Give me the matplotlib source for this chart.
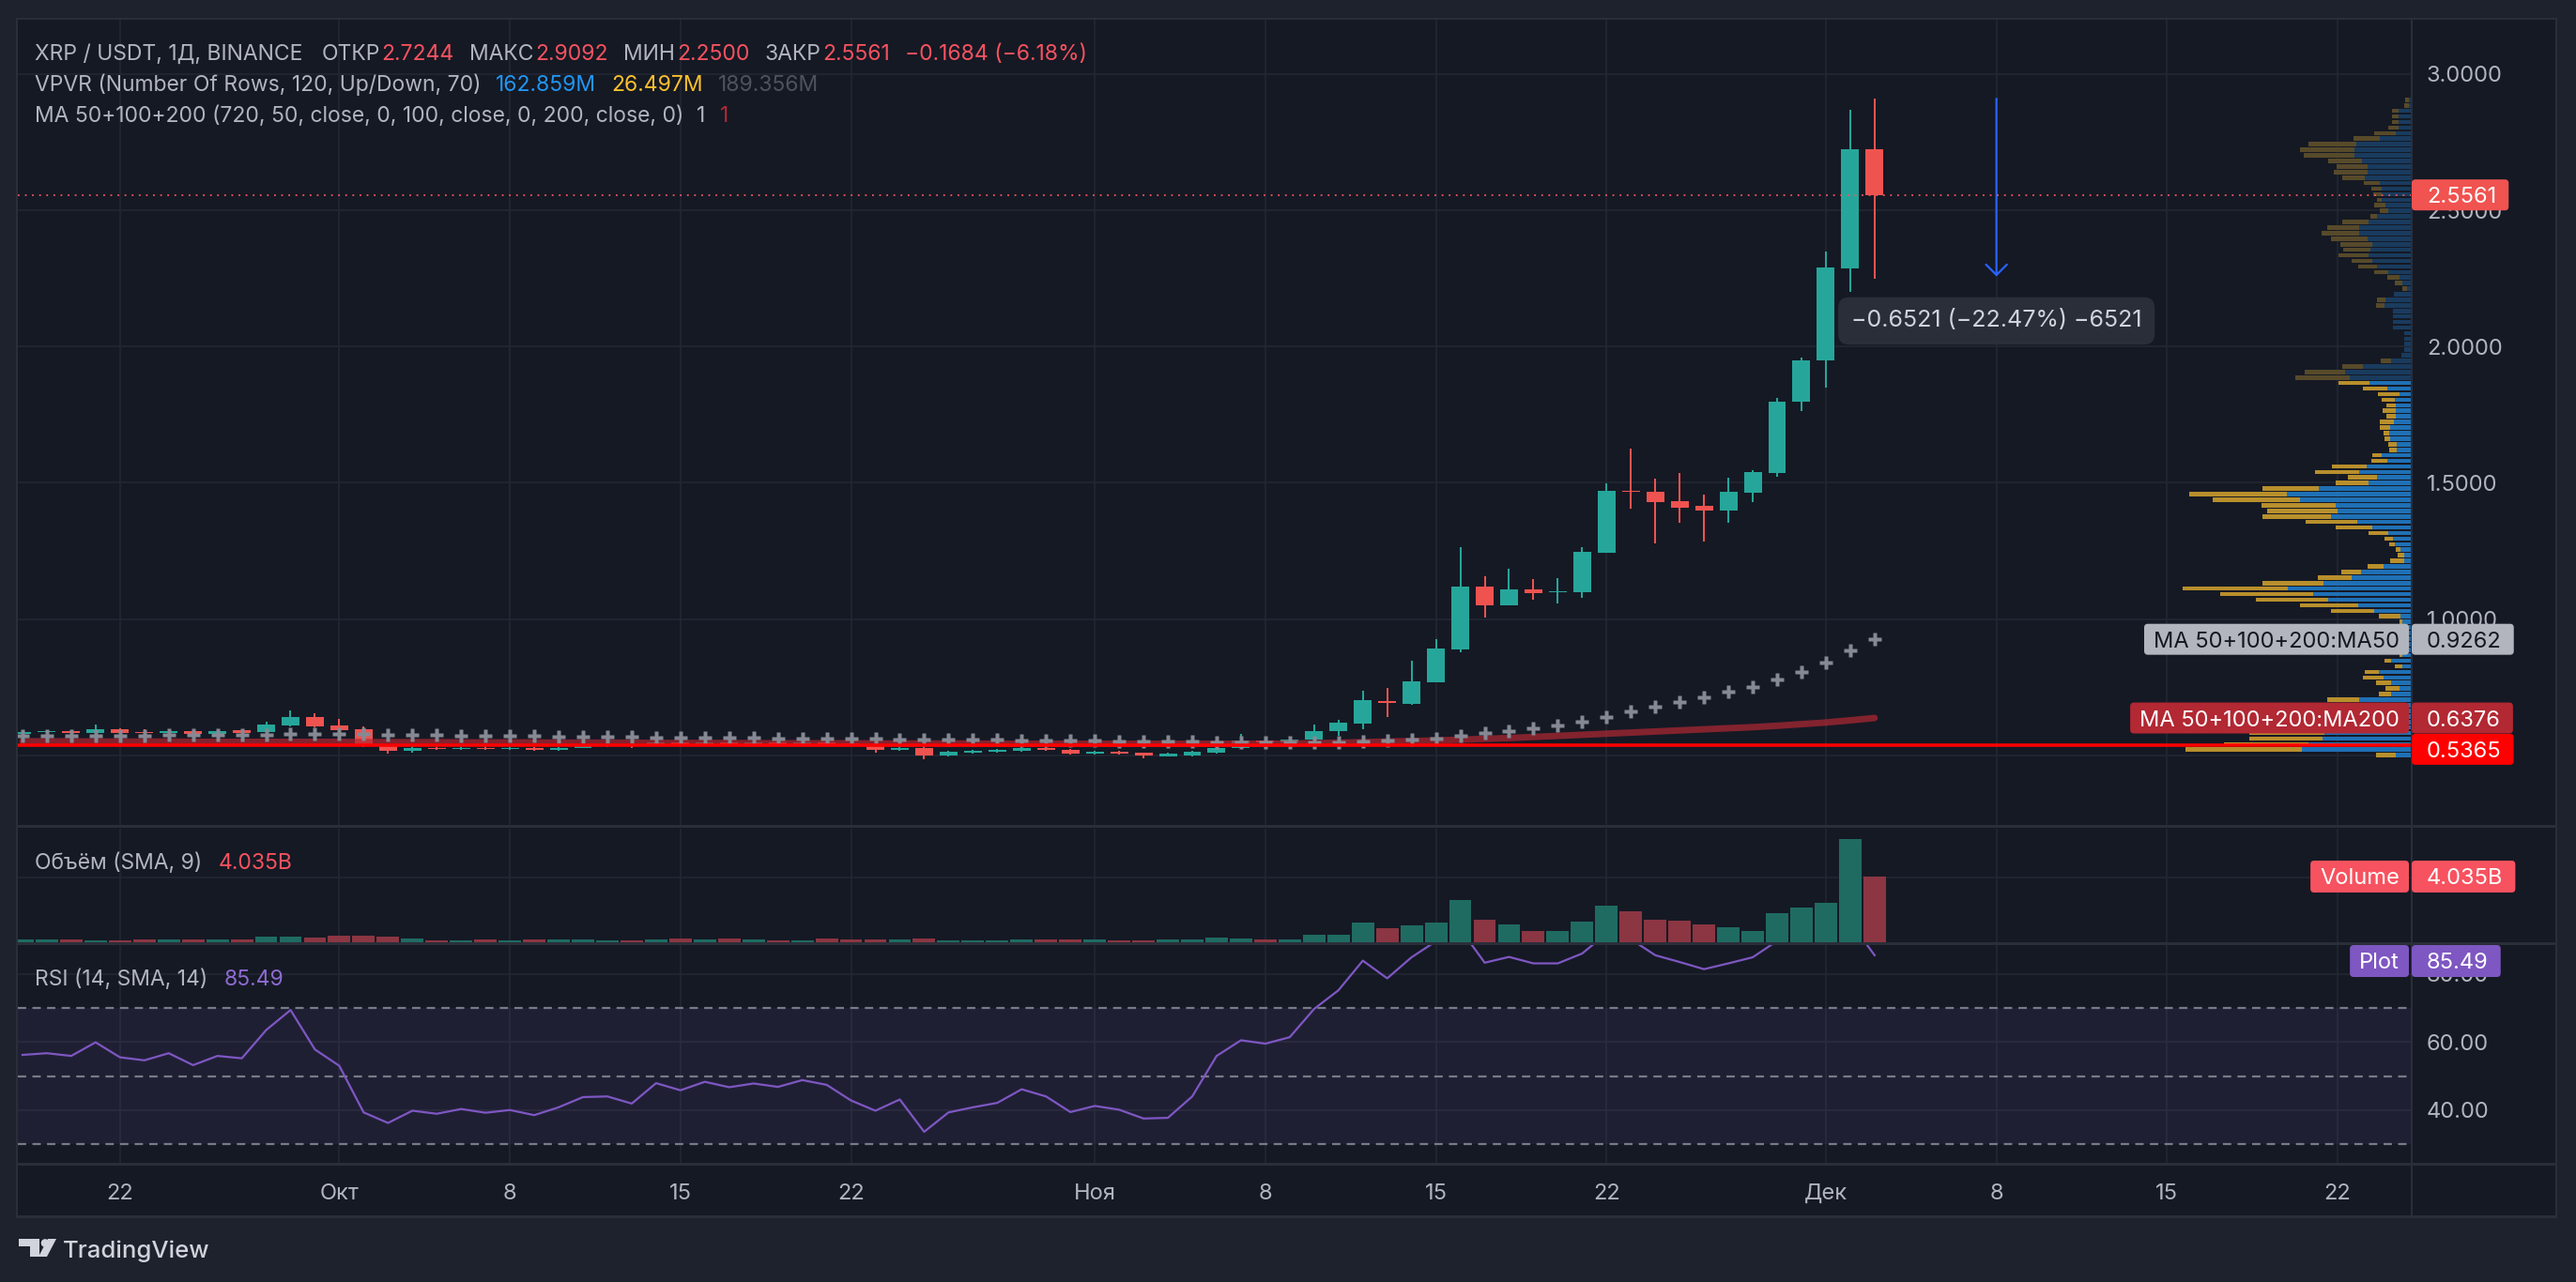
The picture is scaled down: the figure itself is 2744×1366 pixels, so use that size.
import numpy as np
import pandas as pd
import matplotlib
matplotlib.use('Agg')
import matplotlib.pyplot as plt
from matplotlib.patches import Rectangle, FancyBboxPatch, Polygon, Circle
from matplotlib.transforms import IdentityTransform

W, H, DPI = 2744, 1366, 100
plt.rcParams['font.family'] = ['Inter', 'DejaVu Sans']

# ---------------- data ----------------
dates = pd.date_range('2024-09-18', '2024-12-03', freq='D')

opens = [0.580, 0.586, 0.590, 0.583, 0.596, 0.587, 0.581, 0.589, 0.580, 0.593,
         0.585, 0.611, 0.641, 0.609, 0.596, 0.535, 0.517, 0.529, 0.524, 0.529,
         0.524, 0.529, 0.521, 0.529, 0.534, 0.538, 0.536, 0.549, 0.543, 0.549,
         0.543, 0.549, 0.543, 0.549, 0.546, 0.541, 0.521, 0.529, 0.500, 0.510,
         0.514, 0.517, 0.529, 0.522, 0.507, 0.514, 0.510, 0.498, 0.500, 0.510,
         0.528, 0.555, 0.548, 0.557, 0.588, 0.618, 0.700, 0.688, 0.770, 0.890,
         1.118, 1.052, 1.110, 1.099, 1.100, 1.245, 1.472, 1.469, 1.432, 1.414,
         1.397, 1.465, 1.537, 1.798, 1.948, 2.288, 2.7244]
highs = [0.590, 0.594, 0.594, 0.613, 0.601, 0.596, 0.594, 0.595, 0.596, 0.598,
         0.623, 0.665, 0.655, 0.634, 0.607, 0.538, 0.533, 0.532, 0.532, 0.534,
         0.532, 0.532, 0.532, 0.537, 0.540, 0.541, 0.551, 0.553, 0.552, 0.552,
         0.552, 0.551, 0.552, 0.555, 0.549, 0.543, 0.532, 0.532, 0.516, 0.519,
         0.523, 0.532, 0.532, 0.525, 0.516, 0.516, 0.512, 0.509, 0.516, 0.531,
         0.580, 0.560, 0.562, 0.615, 0.631, 0.738, 0.748, 0.848, 0.927, 1.265,
         1.157, 1.185, 1.147, 1.150, 1.264, 1.499, 1.627, 1.514, 1.536, 1.457,
         1.519, 1.547, 1.811, 1.958, 2.348, 2.869, 2.9092]
lows = [0.576, 0.580, 0.578, 0.580, 0.580, 0.578, 0.577, 0.577, 0.577, 0.580,
        0.583, 0.607, 0.603, 0.590, 0.530, 0.508, 0.511, 0.522, 0.522, 0.521,
        0.521, 0.518, 0.518, 0.526, 0.530, 0.526, 0.535, 0.540, 0.540, 0.541,
        0.540, 0.541, 0.540, 0.540, 0.538, 0.511, 0.518, 0.486, 0.497, 0.506,
        0.510, 0.515, 0.518, 0.505, 0.504, 0.505, 0.490, 0.495, 0.498, 0.508,
        0.525, 0.545, 0.545, 0.550, 0.571, 0.598, 0.640, 0.686, 0.768, 0.877,
        1.005, 1.050, 1.070, 1.057, 1.077, 1.243, 1.404, 1.277, 1.355, 1.284,
        1.352, 1.430, 1.524, 1.764, 1.848, 2.201, 2.2500]
closes = [0.586, 0.590, 0.583, 0.596, 0.584, 0.581, 0.589, 0.580, 0.590, 0.583,
          0.613, 0.641, 0.607, 0.594, 0.536, 0.517, 0.529, 0.524, 0.529, 0.524,
          0.529, 0.521, 0.529, 0.534, 0.538, 0.535, 0.549, 0.543, 0.549, 0.543,
          0.549, 0.543, 0.549, 0.543, 0.541, 0.521, 0.529, 0.500, 0.514, 0.517,
          0.521, 0.529, 0.521, 0.507, 0.514, 0.507, 0.500, 0.507, 0.514, 0.528,
          0.555, 0.548, 0.559, 0.590, 0.620, 0.703, 0.694, 0.771, 0.892, 1.118,
          1.052, 1.110, 1.097, 1.101, 1.247, 1.471, 1.467, 1.430, 1.410, 1.397,
          1.467, 1.539, 1.798, 1.950, 2.290, 2.7244, 2.5561]
volumes_b = [0.17, 0.17, 0.17, 0.12, 0.12, 0.17, 0.17, 0.17, 0.17, 0.17,
             0.35, 0.35, 0.29, 0.40, 0.40, 0.35, 0.23,
             0.12, 0.12, 0.17, 0.12, 0.17, 0.17, 0.17, 0.12, 0.12,
             0.17, 0.23, 0.17, 0.23, 0.17, 0.12, 0.12, 0.23, 0.17, 0.17, 0.17, 0.23,
             0.12, 0.12, 0.12, 0.17, 0.17, 0.17, 0.17, 0.12, 0.12, 0.17, 0.17, 0.29, 0.23, 0.17, 0.17,
             0.46, 0.46, 1.21, 0.86, 1.04, 1.21, 2.59, 1.38, 1.10, 0.69, 0.69, 1.27,
             2.25, 1.90, 1.38, 1.33, 1.10, 0.92, 0.69, 1.79, 2.13, 2.42, 6.34, 4.035]
rsi = [56.2, 56.7, 55.9, 59.9, 55.5, 54.6, 56.7, 53.2, 55.9, 55.2,
       63.5, 69.4, 57.8, 53.0, 39.3, 36.2, 39.8, 38.9, 40.3, 39.2,
       40.0, 38.5, 40.8, 43.8, 44.0, 41.9, 47.9, 45.8, 48.3, 46.7,
       47.8, 46.8, 48.8, 47.4, 42.8, 39.8, 43.1, 33.6, 39.3, 40.8,
       42.1, 46.1, 44.0, 39.4, 41.2, 40.1, 37.5, 37.7, 44.0, 55.9,
       60.5, 59.5, 61.4, 69.7, 75.2, 83.9, 78.7, 84.9, 89.6, 93.2,
       83.3, 85.0, 83.1, 83.1, 86.0, 91.9, 90.2, 85.5, 83.5, 81.4,
       83.1, 84.9, 89.7, 92.0, 93.0, 95.2, 85.49]
ma50 = [0.572, 0.572, 0.573, 0.573, 0.574, 0.574, 0.575, 0.575, 0.575, 0.576,
        0.577, 0.578, 0.579, 0.579, 0.578,
        0.577, 0.576, 0.575, 0.574, 0.573, 0.572, 0.571, 0.570,
        0.569, 0.568, 0.568, 0.567, 0.566, 0.566, 0.565,
        0.564, 0.563, 0.563, 0.562, 0.562, 0.561, 0.560, 0.559, 0.558, 0.558, 0.557,
        0.556, 0.556, 0.555, 0.554, 0.553, 0.552, 0.551, 0.550,
        0.549, 0.548, 0.547, 0.547, 0.547,
        0.549, 0.551, 0.555, 0.558, 0.562, 0.573, 0.581, 0.590, 0.600, 0.610,
        0.625, 0.641, 0.661, 0.680, 0.695, 0.715, 0.735, 0.752, 0.780, 0.806,
        0.840, 0.885, 0.9262]
ma200 = [0.552, 0.552, 0.552, 0.551, 0.551, 0.551, 0.551, 0.550, 0.550, 0.550,
         0.550, 0.550, 0.550, 0.550, 0.549, 0.549, 0.549, 0.549, 0.548, 0.548,
         0.548, 0.548, 0.547, 0.547, 0.547, 0.547, 0.546, 0.546, 0.546, 0.546,
         0.545, 0.545, 0.545, 0.545, 0.545, 0.544, 0.544, 0.544, 0.544, 0.544,
         0.543, 0.543, 0.543, 0.543, 0.543, 0.543, 0.543, 0.543, 0.543, 0.543,
         0.543, 0.543, 0.544, 0.545,
         0.547, 0.549, 0.551, 0.553, 0.555, 0.558, 0.561, 0.564, 0.568, 0.572,
         0.576, 0.580, 0.584, 0.588, 0.592, 0.596, 0.600, 0.604, 0.609, 0.615,
         0.621, 0.629, 0.6376]

# volume profile rows, from the highest price row to the lowest (relative widths)
vp_up = [2.7, 2.7, 13.7, 13.7, 13.7, 13.7, 16.7, 34.3, 59.0, 61.0,
         61.0, 52.7, 47.0, 47.0, 50.0, 34.3, 31.7, 31.7, 32.3, 27.7,
         25.0, 36.7, 46.0, 56.0, 56.0, 47.0, 41.7, 43.7, 45.7, 42.0,
         36.7, 25.0, 12.7, 10.3, 5.3, 19.3, 27.7, 29.0, 20.0, 20.0,
         20.0, 20.0, 8.3, 7.7, 7.7, 8.3, 11.0, 22.3, 52.0, 70.7,
         66.3, 44.7, 25.7, 12.7, 18.3, 16.7, 17.3, 16.7, 18.7, 22.7,
         24.3, 22.7, 16.0, 16.0, 32.3, 25.7, 48.3, 55.7, 36.7, 45.7,
         98.7, 132.7, 118.7, 80.7, 78.7, 85.7, 57.7, 42.3, 24.7, 19.7,
         18.3, 11.7, 8.3, 8.3, 30.3, 53.7, 64.3, 93.7, 131.7, 104.7,
         88.7, 56.7, 39.7, 11.7, 10.3, 12.7, 10.0, 12.0, 14.0, 12.0,
         10.0, 21.7, 10.3, 34.7, 29.7, 21.7, 13.0, 21.7, 55.7, 59.7,
         60.0, 70.0, 75.0, 80.0, 92.7, 94.7, 110.0, 116.7, 16.7]
vp_down = [4.0, 5.7, 7.3, 7.3, 7.3, 11.3, 23.0, 27.3, 50.7, 57.7,
           54.0, 36.3, 32.7, 35.7, 23.7, 16.3, 11.0, 9.3, 4.3, 12.0,
           9.3, 7.7, 27.7, 34.0, 39.7, 38.7, 34.0, 29.0, 32.0, 22.3,
           20.0, 14.7, 13.0, 7.3, 5.0, 0.0, 9.0, 8.7, 0.0, 0.0,
           0.0, 0.0, 0.0, 0.0, 0.0, 0.0, 0.0, 10.3, 21.7, 43.0,
           57.3, 33.0, 26.0, 23.0, 13.3, 10.0, 13.3, 10.0, 15.0, 11.0,
           6.0, 6.0, 8.7, 8.0, 9.3, 17.0, 36.3, 47.0, 31.0, 35.0,
           60.0, 104.0, 93.0, 79.0, 75.0, 73.0, 55.0, 38.3, 21.0, 9.0,
           5.3, 5.0, 6.3, 14.3, 16.3, 21.0, 35.3, 65.0, 112.0, 99.0,
           77.0, 62.0, 46.0, 23.0, 2.3, 10.7, 4.0, 5.0, 6.0, 4.0,
           3.0, 7.0, 7.3, 15.0, 22.0, 16.0, 14.7, 13.0, 34.0, 52.0,
           45.0, 55.0, 60.0, 60.0, 80.0, 78.0, 90.0, 124.0, 21.0]
vp_top_row, vp_bottom_row = 2.905, 0.501
vp_value_area_start = 51          # rows from here downward are inside the value area

last_price = 2.5561
hline_price = 0.5365
ma50_last, ma200_last = 0.9262, 0.6376
vol_last, rsi_last = 4.035, 85.49
measure_date = '2024-12-08'
measure_from, measure_to = 2.9092, 2.2571
measure_text = '\u22120.6521 (\u221222.47%) \u22126521'

tick_dates = ['2024-09-22', '2024-10-01', '2024-10-08', '2024-10-15', '2024-10-22',
              '2024-11-01', '2024-11-08', '2024-11-15', '2024-11-22', '2024-12-01',
              '2024-12-08', '2024-12-15', '2024-12-22']
tick_labels = ['22', 'Окт', '8', '15', '22', 'Ноя', '8', '15', '22', 'Дек', '8', '15', '22']
price_ticks = [0.5, 1.0, 1.5, 2.0, 2.5, 3.0]
rsi_ticks = [40, 60, 80]
rsi_levels = [30, 50, 70]

# ---------------- style ----------------
BG = '#151924'
FRAME = '#1e222d'
SEP = '#2a2e39'
GRID = '#232733'
TEAL, RED = '#26a69a', '#ef5350'
VTEAL, VRED = '#1f6b62', '#8b3642'
TXT = '#b2b5be'
IDT = IdentityTransform()
LFS = 16.5     # legend font size
AFS = 17       # axis font size

fig = plt.figure(figsize=(W / DPI, H / DPI), dpi=DPI)
fig.patch.set_facecolor(FRAME)
r = fig.canvas.get_renderer()


def rect(x0, y0, x1, y1, color, z=-5):
    fig.add_artist(Rectangle((x0, H - y1), x1 - x0, y1 - y0, transform=IDT,
                             facecolor=color, edgecolor='none', zorder=z))


def add_ax(x0, y0, x1, y1):
    a = fig.add_axes([x0 / W, 1 - y1 / H, (x1 - x0) / W, (y1 - y0) / H])
    a.set_facecolor(BG)
    for s in a.spines.values():
        s.set_visible(False)
    a.set_xticks([])
    a.set_yticks([])
    return a


def txt(x, ytop, s, color=TXT, fs=LFS, ha='left', va='baseline', z=8, **kw):
    return fig.text(x, H - ytop, s, transform=IDT, color=color, fontsize=fs,
                    ha=ha, va=va, zorder=z, **kw)


rect(19, 20, 2723, 1297, BG, z=-6)

ax = add_ax(19, 20, 2569, 881)
ax_vol = add_ax(19, 883, 2569, 1005)
ax_rsi = add_ax(19, 1007, 2569, 1240)

x = (dates - dates[0]).days.values.astype(float)
XL = (-0.19, 98.04)
for a in (ax, ax_vol, ax_rsi):
    a.set_xlim(*XL)
ax.set_ylim(0.23838, 3.20224)
ax_vol.set_ylim(-0.0576, 6.974)
ax_rsi.set_ylim(24.21, 88.48)

tick_x = [(pd.Timestamp(d) - dates[0]).days for d in tick_dates]
for a in (ax, ax_vol, ax_rsi):
    for tx in tick_x:
        a.axvline(tx, color=GRID, lw=1.2, zorder=0)
for p in price_ticks:
    ax.axhline(p, color=GRID, lw=1.2, zorder=0)
ax_vol.axhline(4.0, color=GRID, lw=1.2, zorder=0)
for v in rsi_ticks:
    ax_rsi.axhline(v, color=GRID, lw=1.2, zorder=0)

# ---- candles ----
o, h, l, c = map(np.array, (opens, highs, lows, closes))
up = c >= o
cols = np.where(up, TEAL, RED)
ax.vlines(x, l, h, colors=cols, lw=1.45, zorder=3)
body = np.maximum(np.abs(c - o), 0.005)
ax.bar(x, body, bottom=np.minimum(o, c), width=0.73, color=cols, lw=0, zorder=4)

# ---- moving averages ----
ax.plot(x, ma200, color='#b22833', lw=5, alpha=0.7, solid_capstyle='round', zorder=5)
ax.plot(x, ma50, ls='none', marker='P', ms=9.5, color='#868993', mec='none', zorder=6)

# ---- measurement ----
mx = (pd.Timestamp(measure_date) - dates[0]).days
ax.annotate('', xy=(mx, measure_to), xytext=(mx, measure_from),
            arrowprops=dict(arrowstyle='->,head_length=0.8,head_width=0.8', color='#2962ff',
                            lw=1.6, shrinkA=0, shrinkB=0, mutation_scale=10), zorder=7)
ax.text(mx, 2.094, measure_text, ha='center', va='center', color='#d1d4dc', fontsize=18,
        zorder=9, bbox=dict(boxstyle='round,pad=0.55,rounding_size=0.45', fc='#2a2e39', ec='none'))

# ---- volume profile ----
ax_vp = ax.twiny()
ax_vp.set_axis_off()
ax_vp.set_xlim(2550, 0)
n = len(vp_up)
centres = np.linspace(vp_top_row, vp_bottom_row, n)
rowh = (vp_top_row - vp_bottom_row) / (n - 1)
inside = np.arange(n) >= vp_value_area_start
upc = np.where(inside, '#1f70b5', '#193b5e')
dnc = np.where(inside, '#b88f2c', '#574a2a')
ax_vp.barh(centres, vp_up, left=0, height=rowh * 0.78, color=upc, lw=0, zorder=2)
ax_vp.barh(centres, vp_down, left=vp_up, height=rowh * 0.78, color=dnc, lw=0, zorder=2)
ax_vp.axhline(last_price, color='#f7525f', lw=1.3, ls=(0, (1, 3.2)), zorder=3)
ax_vp.axhline(hline_price, color='#ff0000', lw=2.6, zorder=3)

# ---- volume ----
vcols = np.where(up, VTEAL, VRED)
ax_vol.bar(x, volumes_b, width=0.92, color=vcols, lw=0, zorder=3)

# ---- RSI ----
ax_rsi.axhspan(30, 70, color='#7e57c2', alpha=0.1, lw=0, zorder=1)
for v in rsi_levels:
    ax_rsi.axhline(v, color='#787b86', lw=1.6, ls=(0, (4, 3)), zorder=2)
ax_rsi.plot(x, rsi, color='#7e57c2', lw=1.6, zorder=4)

# ---- separators / borders ----
rect(19, 879, 2723, 882, SEP, z=2)
rect(19, 1004, 2723, 1007, SEP, z=2)
rect(19, 1239, 2723, 1242, SEP, z=2)
rect(19, 1295, 2723, 1298, SEP, z=2)
rect(19, 19, 2723, 21, SEP, z=2)
rect(2568, 20, 2570, 1297, SEP, z=2)
rect(17, 19, 19, 1298, SEP, z=2)
rect(2722, 19, 2724, 1298, SEP, z=2)


def ypx(a, v):
    return H - a.transData.transform((0, v))[1]


def xpx(a, v):
    return a.transData.transform((v, 0))[0]


CAP = 0.36 * AFS * DPI / 72

# price axis labels
for p in price_ticks:
    txt(2585, ypx(ax, p) + CAP, '%.4f' % p, TXT, AFS, z=4)
for v in rsi_ticks:
    txt(2585, ypx(ax_rsi, v) + CAP, '%.2f' % v, TXT, AFS, z=4)
# x labels
for tx, lab in zip(tick_x, tick_labels):
    txt(xpx(ax_rsi, tx), 1278, lab, TXT, AFS, ha='center', z=4)


def box(x0, x1, yc, h, fc):
    fig.add_artist(FancyBboxPatch((x0, H - yc - h / 2), x1 - x0, h,
                                  boxstyle='round,pad=0,rounding_size=4', transform=IDT,
                                  fc=fc, ec='none', zorder=6.5))


def vbox(yc, s, fc, tc, h=33):
    t = txt(2585, yc + CAP, s, tc, AFS, z=7)
    e = t.get_window_extent(r)
    box(2569, e.x1 + 13, yc, h, fc)


def nbox(yc, s, fc, tc, h=33):
    t = txt(2556, yc + CAP, s, tc, AFS, ha='right', z=7)
    e = t.get_window_extent(r)
    box(e.x0 - 10, 2566, yc, h, fc)


vbox(ypx(ax, last_price), '%.4f' % last_price, '#f05350', '#ffffff')
nbox(ypx(ax, ma50_last), 'MA 50+100+200:MA50', '#b2b5be', '#131722')
vbox(ypx(ax, ma50_last), '%.4f' % ma50_last, '#b2b5be', '#131722')
nbox(ypx(ax, ma200_last), 'MA 50+100+200:MA200', '#b22833', '#ffffff')
vbox(ypx(ax, ma200_last), '%.4f' % ma200_last, '#b22833', '#ffffff')
vbox(ypx(ax, hline_price) + 4, '%.4f' % hline_price, '#ff0000', '#ffffff')
nbox(ypx(ax_vol, vol_last), 'Volume', '#f7525f', '#ffffff', h=34)
vbox(ypx(ax_vol, vol_last), '%.3fB' % vol_last, '#f7525f', '#ffffff', h=34)
nbox(1024, 'Plot', '#7e57c2', '#ffffff', h=34)
vbox(1024, '%.2f' % rsi_last, '#7e57c2', '#ffffff', h=34)


def segs(x0, ybase, parts, fs=LFS):
    xx = x0
    for s, color, gap in parts:
        xx += gap
        t = txt(xx, ybase, s, color, fs)
        xx = t.get_window_extent(r).x1


LRED = '#f7525f'
segs(37, 64, [('XRP / USDT, 1Д, BINANCE', TXT, 0), ('ОТКР', TXT, 20), ('2.7244', LRED, 2),
              ('МАКС', TXT, 16), ('2.9092', LRED, 2), ('МИН', TXT, 16), ('2.2500', LRED, 2),
              ('ЗАКР', TXT, 16), ('2.5561', LRED, 2), ('\u22120.1684 (\u22126.18%)', LRED, 16)])
segs(37, 97, [('VPVR (Number Of Rows, 120, Up/Down, 70)', TXT, 0), ('162.859M', '#2196f3', 15),
              ('26.497M', '#fbc02d', 17), ('189.356M', '#4e525d', 16)])
segs(37, 130, [('MA 50+100+200 (720, 50, close, 0, 100, close, 0, 200, close, 0)', TXT, 0),
               ('1', TXT, 14), ('1', '#b22833', 15)])
segs(37, 926, [('Объём (SMA, 9)', TXT, 0), ('4.035B', LRED, 17)])
segs(37, 1050, [('RSI (14, SMA, 14)', TXT, 0), ('85.49', '#8e6bd1', 17)])

# ---- TradingView logo ----
LC = '#d1d4dc'
rect(20, 1320, 42, 1328, LC, z=3)
rect(32, 1320, 42, 1339, LC, z=3)
fig.add_artist(Circle((48, H - 1324.5), 4.3, transform=IDT, fc=LC, ec='none', zorder=3))
fig.add_artist(Polygon([(51, H - 1320), (60, H - 1320), (50, H - 1339), (41, H - 1339)],
                       closed=True, transform=IDT, fc=LC, ec='none', zorder=3))
txt(67, 1340, 'TradingView', LC, 18.5, weight='medium', z=3)

fig.savefig('out.png', dpi=DPI, facecolor=FRAME)
